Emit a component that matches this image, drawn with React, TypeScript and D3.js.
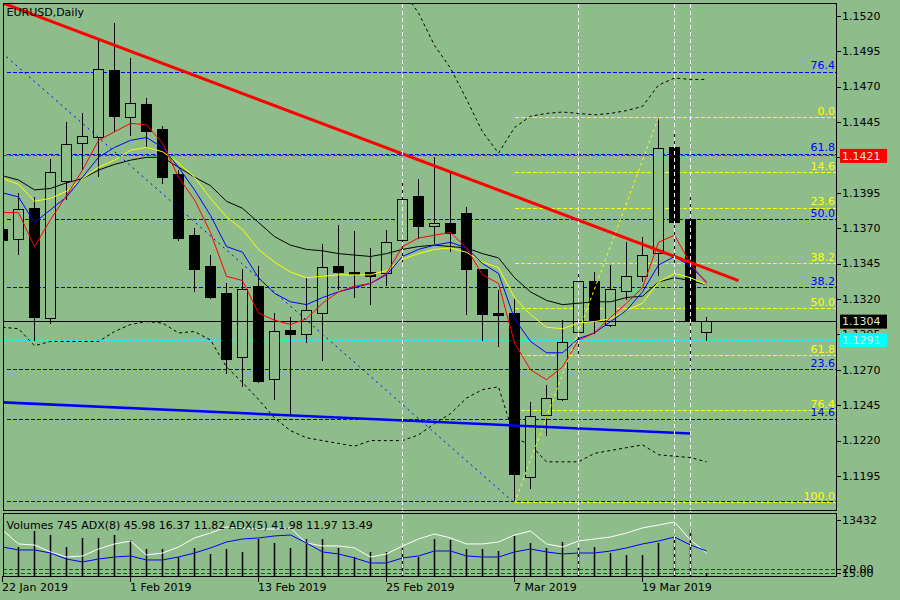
import React from 'react';
import * as d3 from 'd3';

// daily bars, 22 Jan 2019 .. 25 Mar 2019
const dates = [
  '2019-01-22', '2019-01-23', '2019-01-24', '2019-01-25', '2019-01-28', '2019-01-29', '2019-01-30', '2019-01-31',
  '2019-02-01', '2019-02-04', '2019-02-05', '2019-02-06', '2019-02-07', '2019-02-08', '2019-02-11', '2019-02-12',
  '2019-02-13', '2019-02-14', '2019-02-15', '2019-02-18', '2019-02-19', '2019-02-20', '2019-02-21', '2019-02-22',
  '2019-02-25', '2019-02-26', '2019-02-27', '2019-02-28', '2019-03-01', '2019-03-04', '2019-03-05', '2019-03-06',
  '2019-03-07', '2019-03-08', '2019-03-11', '2019-03-12', '2019-03-13', '2019-03-14', '2019-03-15', '2019-03-18',
  '2019-03-19', '2019-03-20', '2019-03-21', '2019-03-22', '2019-03-25',
];

const opens = [
  1.1369, 1.1362, 1.1384, 1.1306, 1.1403, 1.1430, 1.1434, 1.1481, 1.1448, 1.1457,
  1.1440, 1.1408, 1.1365, 1.1343, 1.1324, 1.1279, 1.1329, 1.1263, 1.1298, 1.1295,
  1.1310, 1.1343, 1.1339, 1.1339, 1.1338, 1.1361, 1.1392, 1.1371, 1.1373, 1.1380,
  1.1341, 1.1310, 1.1310, 1.1194, 1.1238, 1.1249, 1.1296, 1.1332, 1.1301, 1.1325,
  1.1336, 1.1352, 1.1427, 1.1376, 1.1296,
];
const highs = [
  1.1374, 1.1395, 1.1392, 1.1419, 1.1445, 1.1451, 1.1503, 1.1515, 1.1490, 1.1462,
  1.1442, 1.1411, 1.1370, 1.1351, 1.1331, 1.1341, 1.1343, 1.1310, 1.1307, 1.1335,
  1.1359, 1.1372, 1.1368, 1.1356, 1.1369, 1.1404, 1.1405, 1.1420, 1.1409, 1.1385,
  1.1341, 1.1326, 1.1320, 1.1247, 1.1259, 1.1305, 1.1339, 1.1339, 1.1344, 1.1360,
  1.1364, 1.1448, 1.1439, 1.1392, 1.1307,
];
const lows = [
  1.1356, 1.1351, 1.1290, 1.1302, 1.1390, 1.1411, 1.1406, 1.1438, 1.1435, 1.1427,
  1.1401, 1.1361, 1.1325, 1.1320, 1.1267, 1.1258, 1.1261, 1.1249, 1.1238, 1.1289,
  1.1276, 1.1326, 1.1321, 1.1316, 1.1329, 1.1346, 1.1362, 1.1359, 1.1353, 1.1309,
  1.1290, 1.1286, 1.1176, 1.1186, 1.1223, 1.1248, 1.1278, 1.1295, 1.1300, 1.1319,
  1.1332, 1.1336, 1.1344, 1.1273, 1.1290,
];
const closes = [
  1.1361, 1.1383, 1.1307, 1.1409, 1.1429, 1.1435, 1.1482, 1.1449, 1.1458, 1.1438,
  1.1406, 1.1363, 1.1341, 1.1321, 1.1277, 1.1327, 1.1262, 1.1297, 1.1295, 1.1312,
  1.1342, 1.1339, 1.1337, 1.1336, 1.1360, 1.1390, 1.1371, 1.1373, 1.1366, 1.1341,
  1.1309, 1.1308, 1.1196, 1.1237, 1.1250, 1.1289, 1.1332, 1.1305, 1.1327, 1.1336,
  1.1351, 1.1426, 1.1374, 1.1305, 1.1304,
];

// moving averages
const maRed = [
  1.1381, 1.1381, 1.1357, 1.1376, 1.1393, 1.1411, 1.1432, 1.1438, 1.1444, 1.1443,
  1.1430, 1.1406, 1.1390, 1.1367, 1.1336, 1.1333, 1.1310, 1.1305, 1.1302, 1.1306,
  1.1317, 1.1325, 1.1329, 1.1331, 1.1338, 1.1357, 1.1363, 1.1365, 1.1367, 1.1356,
  1.1337, 1.1331, 1.1289, 1.1270, 1.1263, 1.1272, 1.1291, 1.1296, 1.1307, 1.1317,
  1.1328, 1.1360, 1.1365, 1.1345, 1.1331,
];
const maBlue = [
  1.1395, 1.1392, 1.1374, 1.1383, 1.1392, 1.1406, 1.1420, 1.1427, 1.1432, 1.1434,
  1.1427, 1.1413, 1.1397, 1.1379, 1.1357, 1.1353, 1.1335, 1.1324, 1.1318, 1.1316,
  1.1321, 1.1325, 1.1328, 1.1331, 1.1337, 1.1350, 1.1355, 1.1358, 1.1360, 1.1356,
  1.1345, 1.1338, 1.1306, 1.1290, 1.1282, 1.1282, 1.1292, 1.1296, 1.1304, 1.1312,
  1.1325, 1.1344, 1.1350, 1.1343, 1.1332,
];
const maYellow = [
  1.1405, 1.1401, 1.1389, 1.1391, 1.1396, 1.1405, 1.1413, 1.1418, 1.1425, 1.1427,
  1.1424, 1.1416, 1.1406, 1.1391, 1.1378, 1.1369, 1.1355, 1.1346, 1.1339, 1.1335,
  1.1336, 1.1337, 1.1337, 1.1337, 1.1340, 1.1348, 1.1352, 1.1355, 1.1356, 1.1353,
  1.1346, 1.1342, 1.1321, 1.1309, 1.1300, 1.1299, 1.1303, 1.1304, 1.1306, 1.1312,
  1.1317, 1.1332, 1.1338, 1.1335, 1.1330,
];
const maBlack = [
  1.1407, 1.1404, 1.1397, 1.1398, 1.1402, 1.1405, 1.1411, 1.1415, 1.1418, 1.1420,
  1.1420, 1.1413, 1.1406, 1.1400, 1.1389, 1.1384, 1.1374, 1.1364, 1.1358, 1.1355,
  1.1354, 1.1352, 1.1351, 1.1350, 1.1352, 1.1355, 1.1357, 1.1358, 1.1357, 1.1356,
  1.1352, 1.1349, 1.1335, 1.1325, 1.1319, 1.1316, 1.1317, 1.1318, 1.1318, 1.1321,
  1.1322, 1.1332, 1.1335, 1.1333, 1.1330,
];
const bandUpper = [
  1.1552, 1.1550, 1.1549, 1.1553, 1.1558, 1.1562, 1.1570, 1.1578, 1.1582, 1.1584,
  1.1585, 1.1584, 1.1582, 1.1580, 1.1578, 1.1575, 1.1572, 1.1568, 1.1565, 1.1562,
  1.1558, 1.1555, 1.1551, 1.1548, 1.1544, 1.1538, 1.1522, 1.1499, 1.1483, 1.1461,
  1.1438, 1.1423, 1.1441, 1.1449, 1.1451, 1.1452, 1.1451, 1.1450, 1.1451, 1.1453,
  1.1456, 1.1471, 1.1476, 1.1475, 1.1475,
];
const bandLower = [
  1.1300, 1.1299, 1.1287, 1.1290, 1.1290, 1.1290, 1.1290, 1.1297, 1.1302, 1.1304,
  1.1303, 1.1296, 1.1297, 1.1291, 1.1272, 1.1261, 1.1249, 1.1236, 1.1227, 1.1222,
  1.1220, 1.1218, 1.1216, 1.1220, 1.1220, 1.1220, 1.1224, 1.1232, 1.1239, 1.1250,
  1.1256, 1.1258, 1.1222, 1.1217, 1.1205, 1.1205, 1.1205, 1.1211, 1.1213, 1.1215,
  1.1217, 1.1210, 1.1209, 1.1208, 1.1205,
];

// indicator window
const volumes = [
  6700, 6960, 10800, 9840, 6960, 9120, 9120, 9840, 8640, 6480,
  6480, 4560, 6720, 5280, 6480, 5760, 8880, 7920, 6720, 8880,
  8880, 6720, 4560, 5760, 5760, 6720, 4560, 8880, 8640, 6480,
  6480, 6000, 9600, 7920, 6720, 8160, 6720, 6960, 5520, 5040,
  5040, 7920, 9120, 11280, 745,
];
const adxWhite = [
  68.8, 51.3, 50.0, 41.3, 35.0, 36.3, 45.0, 51.3, 55.0, 37.5,
  40.0, 47.5, 58.8, 65.0, 72.5, 71.3, 70.0, 70.0, 71.3, 52.5,
  48.8, 48.8, 46.3, 35.0, 38.8, 48.8, 57.5, 63.8, 58.8, 51.3,
  51.3, 53.8, 62.5, 67.5, 51.3, 47.5, 55.0, 57.5, 60.0, 65.0,
  71.3, 75.0, 78.8, 56.3, 40.0,
];
const adxBlue = [
  47.5, 43.8, 43.8, 40.0, 32.5, 28.8, 32.5, 35.0, 36.3, 31.3,
  31.3, 35.0, 40.0, 46.3, 53.8, 57.5, 58.8, 61.3, 62.5, 52.5,
  41.3, 38.8, 33.8, 27.5, 27.5, 33.8, 36.3, 42.5, 42.5, 36.3,
  35.0, 35.0, 41.3, 45.0, 41.3, 38.8, 40.0, 40.0, 42.5, 46.3,
  51.3, 55.0, 60.0, 50.0, 42.5,
];
const adxLevels = [20, 15];
const adxLevelLabels = ['20.00', '15.00'];

const priceTicks = [1.152, 1.1495, 1.147, 1.1445, 1.142, 1.1395, 1.137, 1.1345, 1.132, 1.1295, 1.127, 1.1245, 1.122, 1.1195];
const dateTickIdx = [0, 8, 16, 24, 32, 40];
const dateTickLabels = ['22 Jan 2019', '1 Feb 2019', '13 Feb 2019', '25 Feb 2019', '7 Mar 2019', '19 Mar 2019'];

const blueFibLevels = [1.148, 1.1422, 1.1376, 1.1328, 1.127, 1.1235, 1.1177];
const blueFibLabels = ['76.4', '61.8', '50.0', '38.2', '23.6', '14.6', ''];
const yellowFibLevels = [1.1448, 1.1409, 1.1384, 1.1345, 1.1313, 1.128, 1.1241, 1.1176];
const yellowFibLabels = ['0.0', '14.6', '23.6', '38.2', '50.0', '61.8', '76.4', '100.0'];

// [bar index, price]
const redTrend: [number, number][] = [[0, 1.1529], [46, 1.1333]];
const blueTrend: [number, number][] = [[0, 1.1247], [43, 1.1225]];
const blueFibTrend: [number, number][] = [[0.25, 1.1491], [32, 1.1176]];
const yellowFibTrend: [number, number][] = [[32, 1.1176], [41, 1.1448]];
const vLineIdx = [25, 36, 42, 43];

const priceMarks = [
  { price: 1.1421, color: '#ff0000' },
  { price: 1.1304, color: '#000000' },
  { price: 1.1291, color: '#00ffff' },
];

const BG = '#8fbc8b';
const FONT = '"DejaVu Sans", sans-serif';

export default function App() {
  const x = d3.scaleLinear().domain([0, 44]).range([2.5, 706.5]);
  const y = d3.scaleLinear().domain([1.1195, 1.152]).range([476, 15.7]);
  const vy = d3.scaleLinear().domain([0, 13432]).range([576, 520]);
  const ay = d3.scaleLinear().domain([0, 100]).range([585, 505]);

  const priceLine = d3.line<number>().x((_, i) => x(i)).y((v) => y(v));
  const adxLine = d3.line<number>().x((_, i) => x(i)).y((v) => ay(v));
  const seg = (pts: [number, number][]) =>
    d3.line<[number, number]>().x((d) => x(d[0])).y((d) => y(d[1]))(pts) || '';

  const left = 3;
  const right = 837;

  return (
    <svg
      width={900}
      height={600}
      style={{ position: 'absolute', left: 0, top: 0, background: BG }}
      fontFamily={FONT}
      fontSize={11}
    >
      <defs>
        <clipPath id="mainClip">
          <rect x={3} y={3} width={834} height={508} />
        </clipPath>
        <clipPath id="indClip">
          <rect x={3} y={514} width={834} height={62} />
        </clipPath>
      </defs>
      <rect x={0} y={0} width={900} height={600} fill={BG} />

      <g clipPath="url(#mainClip)">
        {/* fibo levels */}
        {blueFibLevels.map((p, k) => (
          <line key={'bf' + k} x1={x(0.25)} x2={right} y1={y(p)} y2={y(p)}
            stroke="#0000ff" strokeDasharray="4,2" shapeRendering="crispEdges" />
        ))}
        {yellowFibLevels.map((p, k) => (
          <line key={'yf' + k} x1={x(32)} x2={right} y1={y(p)} y2={y(p)}
            stroke="#ffff00" strokeDasharray="4,2" shapeRendering="crispEdges" />
        ))}
        <line x1={left} x2={right} y1={y(1.1421)} y2={y(1.1421)} stroke="#ff0000" strokeDasharray="4,2" shapeRendering="crispEdges" />
        <line x1={left} x2={right} y1={y(1.1291)} y2={y(1.1291)} stroke="#00ffff" strokeDasharray="4,2" shapeRendering="crispEdges" />

        {/* bollinger bands */}
        <path d={priceLine(bandUpper) || ''} fill="none" stroke="#000" strokeDasharray="3,3" />
        <path d={priceLine(bandLower) || ''} fill="none" stroke="#000" strokeDasharray="3,3" />

        {/* candles */}
        {opens.map((o, i) => {
          const c = closes[i];
          const cx = x(i);
          const top = y(Math.max(o, c));
          const bot = y(Math.min(o, c));
          const bull = c >= o;
          return (
            <g key={dates[i]} shapeRendering="crispEdges">
              <line x1={cx} x2={cx} y1={y(highs[i])} y2={y(lows[i])} stroke="#000" />
              <rect x={cx - 5} y={top} width={10} height={Math.max(1, bot - top)}
                fill={bull ? BG : '#000'} stroke="#000" />
            </g>
          );
        })}

        <line x1={left} x2={right} y1={y(1.1304)} y2={y(1.1304)} stroke="#000" shapeRendering="crispEdges" />

        {/* moving averages */}
        <path d={priceLine(maBlack) || ''} fill="none" stroke="#000" />
        <path d={priceLine(maYellow) || ''} fill="none" stroke="#ffff00" />
        <path d={priceLine(maBlue) || ''} fill="none" stroke="#0000ff" />
        <path d={priceLine(maRed) || ''} fill="none" stroke="#ff0000" />

        {/* trend lines */}
        <path d={seg(blueFibTrend)} fill="none" stroke="#0000ff" strokeDasharray="2,4" />
        <path d={seg(yellowFibTrend)} fill="none" stroke="#ffff00" strokeDasharray="3,3" />
        <path d={seg(redTrend)} fill="none" stroke="#ff0000" strokeWidth={3} />
        <path d={seg(blueTrend)} fill="none" stroke="#0000ff" strokeWidth={2.5} />

        {/* fibo labels */}
        {blueFibLabels.map((t, k) => (
          <text key={'bl' + k} x={835} y={y(blueFibLevels[k]) - 3} textAnchor="end" fill="#0000ff">{t}</text>
        ))}
        {yellowFibLabels.map((t, k) => (
          <text key={'yl' + k} x={835} y={y(yellowFibLevels[k]) - 3} textAnchor="end" fill="#ffff00">{t}</text>
        ))}
      </g>

      {/* indicator window */}
      <g clipPath="url(#indClip)">
        {adxLevels.map((v, k) => (
          <line key={'al' + k} x1={left} x2={right} y1={ay(v)} y2={ay(v)} stroke="#006400" strokeDasharray="4,2" shapeRendering="crispEdges" />
        ))}
        {volumes.map((v, i) => (
          <line key={'v' + i} x1={x(i)} x2={x(i)} y1={vy(0)} y2={vy(v)} stroke="#000" strokeWidth={1.5} />
        ))}
        <path d={adxLine(adxWhite) || ''} fill="none" stroke="#ffffff" />
        <path d={adxLine(adxBlue) || ''} fill="none" stroke="#0000ff" />
      </g>

      {/* vertical markers */}
      {vLineIdx.map((i) => (
        <line key={'vl' + i} x1={x(i)} x2={x(i)} y1={4} y2={576} stroke="#ffffff" strokeDasharray="4,3" shapeRendering="crispEdges" />
      ))}

      {/* frames */}
      <rect x={3.5} y={3.5} width={833} height={507} fill="none" stroke="#000" shapeRendering="crispEdges" />
      <rect x={3.5} y={513.5} width={833} height={62.5} fill="none" stroke="#000" shapeRendering="crispEdges" />

      <text x={6.5} y={16} fill="#000">EURUSD,Daily</text>
      <text x={6.5} y={528.5} fill="#000">Volumes 745 ADX(8) 45.98 16.37 11.82 ADX(5) 41.98 11.97 13.49</text>

      {/* price axis */}
      {priceTicks.map((p) => (
        <g key={'pt' + p}>
          <line x1={837} x2={841} y1={Math.round(y(p)) + 0.5} y2={Math.round(y(p)) + 0.5} stroke="#000" />
          <text x={842} y={y(p)} dy="0.35em" fill="#000">{p.toFixed(4)}</text>
        </g>
      ))}
      {priceMarks.map((m) => (
        <g key={'pm' + m.price}>
          <rect x={840} y={y(m.price) - 7} width={47} height={14} fill={m.color} />
          <text x={842} y={y(m.price)} dy="0.35em" fill="#d8ead4">{m.price.toFixed(4)}</text>
        </g>
      ))}

      {/* indicator axis */}
      <line x1={837} x2={841} y1={520.5} y2={520.5} stroke="#000" />
      <text x={842} y={vy(13432)} dy="0.35em" fill="#000">13432</text>
      {adxLevels.map((v, k) => (
        <g key={'alv' + k}>
          <line x1={837} x2={841} y1={Math.round(ay(v)) + 0.5} y2={Math.round(ay(v)) + 0.5} stroke="#000" />
          <text x={842} y={ay(v)} dy="0.35em" fill="#000">{adxLevelLabels[k]}</text>
        </g>
      ))}

      {/* time axis */}
      {dateTickIdx.map((i, k) => (
        <g key={'dt' + i}>
          <line x1={x(i)} x2={x(i)} y1={576} y2={582} stroke="#000" shapeRendering="crispEdges" />
          <text x={x(i) - 0.5} y={591} fill="#000">{dateTickLabels[k]}</text>
        </g>
      ))}
    </svg>
  );
}
